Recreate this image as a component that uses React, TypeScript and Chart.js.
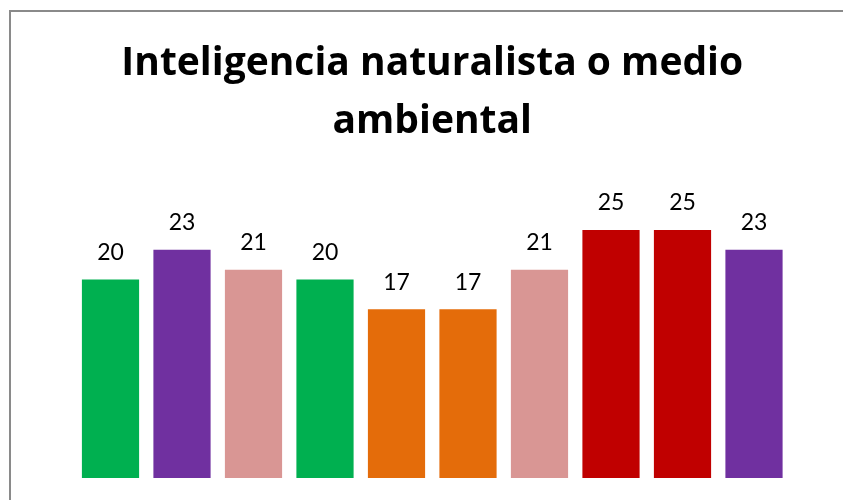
import React, { useEffect, useRef } from "react";
import { Chart, registerables } from "chart.js";

Chart.register(...registerables);

const categories = ["1", "2", "3", "4", "5", "6", "7", "8", "9", "10"];
const values = [20, 23, 21, 20, 17, 17, 21, 25, 25, 23];
const barColors = [
  "#00B050",
  "#7030A0",
  "#D99694",
  "#00B050",
  "#E46C0A",
  "#E46C0A",
  "#D99694",
  "#C00000",
  "#C00000",
  "#7030A0",
];
const titleLines = ["Inteligencia naturalista o medio", "ambiental"];

const borderPlugin = {
  id: "frameBorder",
  beforeDraw(chart: any) {
    const ctx = chart.ctx;
    ctx.save();
    ctx.fillStyle = "#ffffff";
    ctx.fillRect(0, 0, chart.width, chart.height);
    ctx.strokeStyle = "#8a8a8a";
    ctx.lineWidth = 2;
    ctx.beginPath();
    ctx.moveTo(10, chart.height + 5);
    ctx.lineTo(10, 11);
    ctx.lineTo(chart.width + 5, 11);
    ctx.stroke();
    ctx.restore();
  },
};

const labelPlugin = {
  id: "valueLabels",
  afterDatasetsDraw(chart: any) {
    const ctx = chart.ctx;
    const meta = chart.getDatasetMeta(0);
    ctx.save();
    ctx.fillStyle = "#000000";
    ctx.font = "23px Lato";
    ctx.textAlign = "center";
    ctx.textBaseline = "middle";
    meta.data.forEach((bar: any, i: number) => {
      ctx.fillText(String(values[i]), bar.x, bar.y - 27);
    });
    ctx.restore();
  },
};

export default function App() {
  const ref = useRef<HTMLCanvasElement | null>(null);
  useEffect(() => {
    if (!ref.current) return;
    const chart = new Chart(ref.current, {
      type: "bar",
      data: {
        labels: categories,
        datasets: [
          {
            data: values,
            backgroundColor: barColors,
            borderWidth: 0,
            barPercentage: 0.8,
            categoryPercentage: 1,
          },
        ],
      },
      options: {
        animation: false,
        responsive: false,
        maintainAspectRatio: false,
        layout: { padding: { left: 74.75, right: 53.25, top: 0, bottom: 22 } },
        scales: {
          x: { display: false },
          y: { display: false, min: 0, max: 30 },
        },
        plugins: {
          legend: { display: false },
          tooltip: { enabled: false },
          title: {
            display: true,
            text: titleLines,
            color: "#000000",
            font: { family: "'Open Sans'", size: 39, weight: "bold", lineHeight: "58px" },
            padding: { top: 35, bottom: 29.4 },
          },
        },
      },
      plugins: [borderPlugin, labelPlugin],
    });
    return () => chart.destroy();
  }, []);
  return (
    <div style={{ position: "absolute", left: 0, top: 0, width: 843, height: 500 }}>
      <canvas ref={ref} width={843} height={500} />
    </div>
  );
}
